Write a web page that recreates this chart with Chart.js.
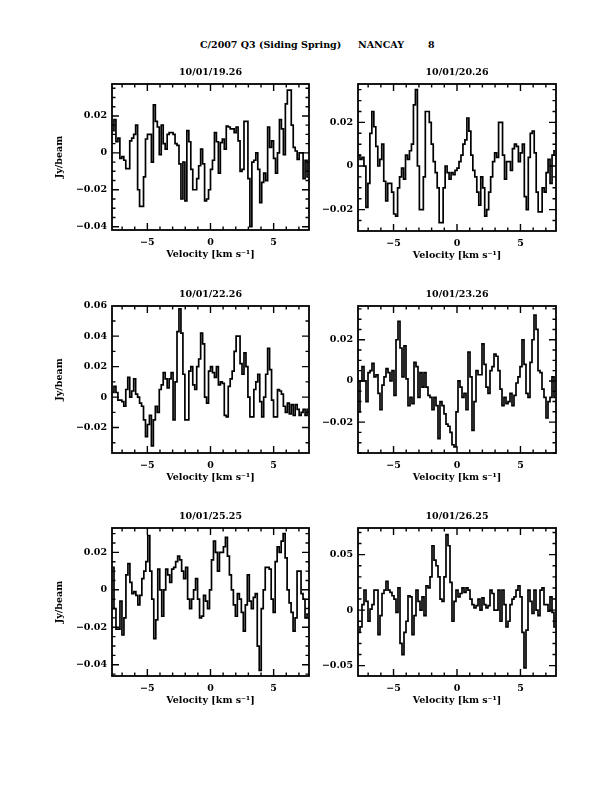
<!DOCTYPE html>
<html>
<head>
<meta charset="utf-8">
<script src="https://cdn.jsdelivr.net/npm/chart.js@4.4.0/dist/chart.umd.min.js"></script>
<style>
html,body{margin:0;padding:0;background:#fff;}
body{width:612px;height:792px;position:relative;overflow:hidden;font-family:"DejaVu Serif";font-weight:bold;font-size:9.5px;color:#000;}
.t{position:absolute;white-space:pre;line-height:1;}
canvas{position:absolute;}
</style>
</head>
<body>
<div class="t" style="left:200px;top:40px">C/2007 Q3 (Siding Spring)</div>
<div class="t" style="left:358px;top:40px">NANCAY</div>
<div class="t" style="left:428px;top:40px">8</div>
<script>
// ---------- data ----------
const X_MIN = -7.8, X_MAX = 7.8;
const X_TICKS = [-5, 0, 5];
const X_TITLE = 'Velocity [km s\u207B\u00B9]';
const Y_TITLE = 'Jy/beam';
const TITLES = ['10/01/19.26', '10/01/20.26', '10/01/22.26', '10/01/23.26', '10/01/25.25', '10/01/26.25'];

const SPEC_1 = [0.012, 0.018, 0.006, 0.008, -0.003, -0.002, -0.004, -0.0085, -0.0085, 0.0065,
 0.008, 0.01, 0.015, -0.02, -0.029, -0.029, -0.013, 0.0075, 0.01, 0.01,
 -0.005, 0.026, 0.017, 0.014, -0.001, 0.015, 0.005, 0.002, 0.01, 0.011,
 0.011, 0.01, 0.005, 0.004, -0.006, -0.025, -0.005, -0.026, 0.012, 0.006,
 -0.009, -0.02, -0.02, -0.014, -0.007, 0.002, -0.006, -0.026, -0.025, -0.02,
 -0.009, -0.004, 0.011, 0.006, -0.011, 0.0055, 0.0075, 0.002, 0.0145, 0.014,
 0.013, 0.013, 0.011, 0.014, 0.0065, -0.01, -0.009, 0.017, 0.017, -0.014,
 -0.04, -0.005, -0.004, 0.0, -0.009, -0.027, -0.016, -0.011, -0.015, 0.014,
 0.003, 0.0065, -0.003, -0.011, 0.0, 0.018, 0.013, -0.001, 0.0265, 0.034,
 0.034, 0.015, 0.003, 0.001, -0.0035, 0.0, 0.0, -0.014, -0.004, -0.013];

const SPEC_2 = [0.005, 0.003, 0.004, 0.0, -0.019, -0.008, 0.015, 0.025, 0.018, 0.009,
 0.0, 0.003, 0.01, -0.007, -0.016, -0.008, -0.008, -0.012, -0.022, -0.023,
 -0.01, -0.005, -0.001, -0.006, 0.005, 0.003, 0.007, 0.01, 0.028, 0.035,
 0.0, -0.02, -0.02, -0.005, 0.025, 0.025, 0.02, 0.01, 0.002, -0.003,
 -0.01, -0.026, -0.026, -0.01, 0.0, -0.003, -0.006, -0.003, -0.004, -0.002,
 -0.001, 0.002, 0.005, 0.01, 0.012, 0.022, 0.016, 0.005, -0.002, -0.005,
 -0.012, -0.018, -0.005, -0.01, -0.023, -0.02, -0.012, -0.005, 0.002, 0.006,
 0.004, 0.02, 0.02, 0.005, -0.006, 0.002, 0.002, -0.002, 0.008, 0.01,
 0.009, 0.002, 0.006, 0.01, -0.014, -0.02, 0.004, 0.015, 0.016, 0.006,
 -0.012, -0.021, -0.021, -0.01, -0.012, -0.003, 0.003, -0.008, 0.005, 0.007];

const SPEC_3 = [0.003, 0.007, 0.003, -0.002, -0.002, -0.003, -0.006, 0.005, 0.013, 0.0,
 0.004, 0.012, 0.002, 0.0, -0.004, -0.006, -0.015, -0.026, -0.018, -0.012,
 -0.032, -0.015, -0.006, -0.01, 0.005, 0.008, 0.016, 0.012, 0.006, 0.012,
 0.016, -0.015, 0.01, 0.043, 0.058, 0.042, 0.015, -0.015, -0.015, 0.017,
 0.02, 0.008, 0.005, 0.02, 0.025, 0.042, 0.035, 0.0, -0.004, 0.017,
 0.02, 0.016, 0.013, 0.02, 0.008, 0.01, 0.009, -0.012, -0.013, 0.007,
 0.012, 0.017, 0.03, 0.04, 0.04, 0.022, 0.015, 0.029, 0.02, 0.0,
 -0.013, -0.013, 0.005, 0.01, 0.015, -0.003, -0.013, 0.0, 0.015, 0.032,
 0.018, -0.002, -0.013, -0.013, 0.005, 0.004, 0.002, -0.006, -0.01, -0.004,
 -0.011, -0.005, -0.012, -0.005, -0.008, -0.012, -0.01, -0.008, -0.012, -0.008];

const SPEC_4 = [-0.015, 0.0, 0.007, 0.0, -0.01, 0.004, 0.005, 0.0085, 0.002, 0.003,
 -0.006, -0.014, -0.002, 0.002, 0.006, 0.004, 0.0, 0.005, -0.007, 0.02,
 0.029, 0.016, 0.002, 0.017, 0.001, -0.012, -0.008, -0.011, 0.009, 0.007,
 -0.008, 0.004, -0.003, 0.004, -0.003, -0.007, -0.008, -0.014, -0.008, -0.012,
 -0.028, -0.01, -0.012, -0.016, -0.021, -0.022, -0.025, -0.031, -0.032, -0.015,
 0.0, -0.003, -0.008, -0.006, -0.014, 0.014, 0.002, -0.024, -0.01, 0.005,
 0.003, 0.003, 0.018, 0.008, -0.003, -0.006, 0.005, 0.007, 0.013, 0.012,
 0.005, -0.004, -0.012, -0.008, -0.011, -0.01, -0.006, -0.012, -0.007, -0.001,
 0.002, 0.007, 0.02, 0.008, -0.006, -0.008, 0.009, 0.02, 0.032, 0.025,
 0.005, 0.004, -0.004, -0.008, -0.018, -0.01, -0.008, 0.002, -0.008];

const SPEC_5 = [0.012, -0.01, -0.021, -0.021, -0.006, -0.024, -0.015, 0.008, 0.014, 0.004,
 -0.002, -0.001, -0.003, -0.008, -0.003, 0.006, 0.01, 0.015, 0.029, 0.01,
 -0.005, -0.026, -0.016, 0.011, 0.0, -0.014, 0.0, 0.011, 0.008, 0.004,
 0.011, 0.012, 0.015, 0.018, 0.016, 0.01, 0.006, 0.012, -0.005, -0.01,
 -0.005, 0.0, 0.006, -0.005, -0.015, -0.014, -0.003, -0.006, -0.01, 0.0,
 0.016, 0.026, 0.02, 0.01, 0.02, 0.02, 0.023, 0.028, 0.018, 0.008,
 0.0, -0.008, -0.014, -0.002, -0.005, -0.012, -0.022, -0.008, 0.008, -0.006,
 -0.01, -0.004, -0.002, -0.03, -0.043, -0.01, 0.0, 0.012, 0.012, 0.011,
 -0.005, -0.012, 0.015, 0.023, 0.02, 0.026, 0.03, 0.017, 0.0, -0.007,
 -0.012, -0.022, -0.015, 0.01, 0.01, -0.002, -0.005, -0.015, -0.013];

const SPEC_6 = [-0.02, -0.015, 0.005, 0.018, 0.008, -0.01, 0.001, 0.005, 0.018, 0.018,
 -0.022, -0.005, 0.015, 0.018, 0.026, 0.018, 0.016, 0.013, 0.01, -0.002,
 0.02, -0.03, -0.04, -0.02, -0.01, 0.013, 0.012, -0.022, -0.005, 0.018,
 0.008, 0.0, 0.012, -0.005, 0.022, 0.02, 0.03, 0.058, 0.045, 0.04,
 0.03, 0.01, 0.008, 0.03, 0.068, 0.058, 0.025, -0.01, 0.008, 0.018,
 0.012, 0.015, 0.02, 0.016, 0.02, 0.018, 0.01, 0.005, 0.002, 0.004,
 0.01, 0.0, 0.011, 0.005, 0.002, 0.004, 0.018, 0.015, 0.0, 0.0,
 0.018, -0.01, 0.018, 0.005, -0.015, -0.01, 0.005, 0.01, 0.012, 0.018,
 0.022, 0.012, -0.02, -0.052, -0.018, 0.018, 0.008, -0.003, 0.018, 0.0,
 -0.005, 0.018, 0.02, 0.005, 0.005, -0.001, 0.012, -0.002, -0.015];

const Y_RANGE_1 = [-0.0418, 0.0373];
const Y_RANGE_2 = [-0.0298, 0.0376];
const Y_RANGE_3 = [-0.0367, 0.0598];
const Y_RANGE_4 = [-0.0350, 0.0364];
const Y_RANGE_5 = [-0.0460, 0.0330];
const Y_RANGE_6 = [-0.0593, 0.0740];

const Y_TICKS_1 = [-0.04, -0.02, 0, 0.02];
const Y_TICKS_2 = [-0.02, 0, 0.02];
const Y_TICKS_3 = [-0.02, 0, 0.02, 0.04, 0.06];
const Y_TICKS_4 = [-0.02, 0, 0.02];
const Y_TICKS_5 = [-0.04, -0.02, 0, 0.02];
const Y_TICKS_6 = [-0.05, 0, 0.05];

const Y_MAJOR = [0.02, 0.02, 0.02, 0.02, 0.02, 0.05];
const Y_MINOR = [0.005, 0.005, 0.01, 0.005, 0.005, 0.01];

// ---------- layout (frame rectangles in page pixels) ----------
const FRAMES = [
  {left: 112, top: 84, w: 197, h: 146},
  {left: 358, top: 84, w: 198, h: 147},
  {left: 112, top: 306, w: 197, h: 147},
  {left: 358, top: 306, w: 198, h: 147},
  {left: 112, top: 528, w: 197, h: 148},
  {left: 358, top: 528, w: 198, h: 148}
];
const PAD_L = 75, PAD_T = 26, PAD_R = 12, PAD_B = 34;

const SPECS = [SPEC_1, SPEC_2, SPEC_3, SPEC_4, SPEC_5, SPEC_6];
const Y_RANGES = [Y_RANGE_1, Y_RANGE_2, Y_RANGE_3, Y_RANGE_4, Y_RANGE_5, Y_RANGE_6];
const Y_TICKS = [Y_TICKS_1, Y_TICKS_2, Y_TICKS_3, Y_TICKS_4, Y_TICKS_5, Y_TICKS_6];

const FONT = {family: 'DejaVu Serif', size: 9.5, weight: 'bold', lineHeight: 1.2};

function channelVelocities(n) {
  const w = (X_MAX - X_MIN) / n;
  return Array.from({length: n}, (_, i) => X_MIN + (i + 0.5) * w);
}
function fmt(v) {
  if (Math.abs(v) < 1e-12) return '0';
  const s = Number.isInteger(v) ? String(Math.abs(v)) : Math.abs(v).toFixed(2);
  return (v < 0 ? '\u2212' : '') + s;
}

const frameTicks = {
  id: 'frameTicks',
  afterDatasetsDraw(chart, args, opts) {
    const {ctx, chartArea: a, scales: {x, y}} = chart;
    ctx.save();
    ctx.strokeStyle = '#000';
    ctx.lineWidth = 1.4;
    ctx.beginPath();
    for (let v = Math.ceil(x.min); v <= x.max; v++) {
      const px = x.getPixelForValue(v);
      const len = (v % 5 === 0) ? 7 : 3.5;
      ctx.moveTo(px, a.bottom); ctx.lineTo(px, a.bottom - len);
      ctx.moveTo(px, a.top); ctx.lineTo(px, a.top + len);
    }
    const step = opts.minor, major = opts.major;
    const n0 = Math.ceil(y.min / step - 1e-6), n1 = Math.floor(y.max / step + 1e-6);
    for (let k = n0; k <= n1; k++) {
      const v = k * step;
      const py = y.getPixelForValue(v);
      const r = v / major;
      const len = Math.abs(r - Math.round(r)) < 1e-6 ? 7 : 3.5;
      ctx.moveTo(a.left, py); ctx.lineTo(a.left + len, py);
      ctx.moveTo(a.right, py); ctx.lineTo(a.right - len, py);
    }
    ctx.stroke();
    ctx.lineWidth = 1.8;
    ctx.strokeRect(a.left, a.top, a.right - a.left, a.bottom - a.top);
    ctx.restore();
  }
};

FRAMES.forEach((f, p) => {
  const cv = document.createElement('canvas');
  const W = PAD_L + f.w + PAD_R, H = PAD_T + f.h + PAD_B;
  cv.width = W; cv.height = H;
  cv.style.width = W + 'px'; cv.style.height = H + 'px';
  cv.style.left = (f.left - PAD_L) + 'px';
  cv.style.top = (f.top - PAD_T) + 'px';
  document.body.appendChild(cv);

  const spec = SPECS[p];
  const vel = channelVelocities(spec.length);
  const showYTitle = (p % 2 === 0);

  new Chart(cv, {
    type: 'line',
    data: {
      datasets: [{
        data: vel.map((v, i) => ({x: v, y: spec[i]})),
        stepped: 'middle',
        borderColor: '#000',
        borderWidth: 1.7,
        pointRadius: 0,
        fill: false
      }]
    },
    plugins: [frameTicks],
    options: {
      responsive: false,
      animation: false,
      events: [],
      layout: {padding: {left: 0, top: 0, right: PAD_R, bottom: 0}},
      plugins: {
        legend: {display: false},
        tooltip: {enabled: false},
        title: {
          display: true, text: TITLES[p], fullSize: false,
          font: FONT, color: '#000',
          padding: {top: 9, bottom: PAD_T - 9 - FONT.size * FONT.lineHeight}
        },
        frameTicks: {minor: Y_MINOR[p], major: Y_MAJOR[p]}
      },
      scales: {
        x: {
          type: 'linear', min: X_MIN, max: X_MAX,
          afterBuildTicks: s => { s.ticks = X_TICKS.map(v => ({value: v})); },
          afterFit: s => { s.height = PAD_B; },
          grid: {display: false, drawTicks: false},
          border: {display: false},
          ticks: {padding: 7, font: FONT, color: '#000', maxRotation: 0, autoSkip: false, callback: v => fmt(v)},
          title: {display: true, text: X_TITLE, font: FONT, color: '#000', padding: {top: 0, bottom: 4}}
        },
        y: {
          type: 'linear', min: Y_RANGES[p][0], max: Y_RANGES[p][1],
          afterBuildTicks: s => { s.ticks = Y_TICKS[p].map(v => ({value: v})); },
          afterFit: s => { s.width = PAD_L; },
          grid: {display: false, drawTicks: false},
          border: {display: false},
          ticks: {padding: 5, font: FONT, color: '#000', autoSkip: false, callback: v => fmt(v)},
          title: {display: showYTitle, text: Y_TITLE, font: FONT, color: '#000', padding: {top: 16.5, bottom: 0}}
        }
      }
    }
  });
});
</script>
</body>
</html>
